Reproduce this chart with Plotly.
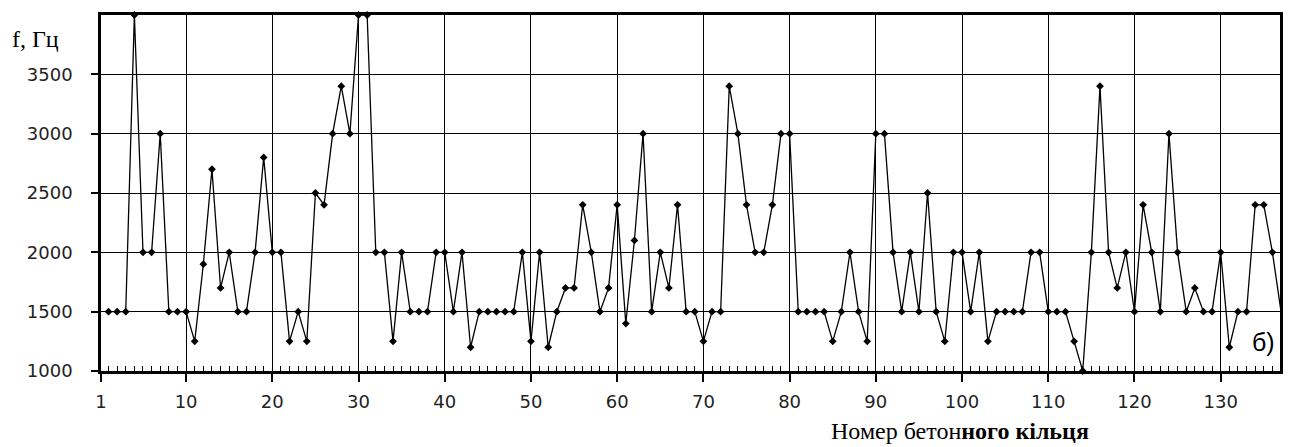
import plotly.graph_objects as go

ring_no = list(range(1, 138))
freq_hz = [
    1500, 1500, 1500, 4000, 2000, 2000, 3000, 1500, 1500, 1500,
    1250, 1900, 2700, 1700, 2000, 1500, 1500, 2000, 2800, 2000,
    2000, 1250, 1500, 1250, 2500, 2400, 3000, 3400, 3000, 4000,
    4000, 2000, 2000, 1250, 2000, 1500, 1500, 1500, 2000, 2000,
    1500, 2000, 1200, 1500, 1500, 1500, 1500, 1500, 2000, 1250,
    2000, 1200, 1500, 1700, 1700, 2400, 2000, 1500, 1700, 2400,
    1400, 2100, 3000, 1500, 2000, 1700, 2400, 1500, 1500, 1250,
    1500, 1500, 3400, 3000, 2400, 2000, 2000, 2400, 3000, 3000,
    1500, 1500, 1500, 1500, 1250, 1500, 2000, 1500, 1250, 3000,
    3000, 2000, 1500, 2000, 1500, 2500, 1500, 1250, 2000, 2000,
    1500, 2000, 1250, 1500, 1500, 1500, 1500, 2000, 2000, 1500,
    1500, 1500, 1250, 1000, 2000, 3400, 2000, 1700, 2000, 1500,
    2400, 2000, 1500, 3000, 2000, 1500, 1700, 1500, 1500, 2000,
    1200, 1500, 1500, 2400, 2400, 2000, 1500,
]

x_min, x_max = 0.13, 136.88
x_tick_vals = [x_min, 10, 20, 30, 40, 50, 60, 70, 80, 90, 100, 110, 120, 130]
x_tick_text = ["1", "10", "20", "30", "40", "50", "60", "70", "80", "90",
               "100", "110", "120", "130"]
y_tick_vals = [1000, 1500, 2000, 2500, 3000, 3500]
y_tick_text = ["1000", "1500", "2000", "2500", "3000", "3500"]

tick_font = dict(family="DejaVu Sans, Liberation Sans, Arial", size=18, color="#222")
serif = "Liberation Serif, Times New Roman, serif"

fig = go.Figure()
fig.add_trace(go.Scatter(
    x=ring_no, y=freq_hz, mode="lines+markers",
    line=dict(color="black", width=1.3),
    marker=dict(symbol="diamond", size=6, color="black"),
    cliponaxis=False, showlegend=False,
))

fig.update_layout(
    width=1293, height=447,
    margin=dict(l=101, r=10, t=15, b=76),
    paper_bgcolor="white", plot_bgcolor="white",
    xaxis=dict(
        range=[x_min, x_max], tickmode="array",
        tickvals=x_tick_vals, ticktext=x_tick_text,
        ticks="outside", ticklen=8, tickcolor="black", tickwidth=1.5,
        showgrid=True, gridcolor="black", gridwidth=1,
        showline=True, linecolor="black", linewidth=2.5, mirror=True,
        zeroline=False, tickfont=tick_font, ticklabelstandoff=5,
        minor=dict(tickmode="linear", tick0=1, dtick=1, ticks="inside",
                   ticklen=5, tickcolor="black", tickwidth=1, showgrid=False),
    ),
    yaxis=dict(
        range=[1000, 4000], tickmode="array",
        tickvals=y_tick_vals, ticktext=y_tick_text,
        ticks="outside", ticklen=7, tickcolor="black", tickwidth=1.5,
        showgrid=True, gridcolor="black", gridwidth=1,
        showline=True, linecolor="black", linewidth=2.5, mirror=True,
        zeroline=False, tickfont=tick_font, ticklabelstandoff=15,
    ),
    annotations=[
        dict(text="f, Гц", xref="paper", yref="paper",
             x=(10 - 101) / 1182, y=(371 - 39) / 356,
             xanchor="left", yanchor="middle", showarrow=False,
             font=dict(family=serif, size=24, color="black")),
        dict(text="Номер бетон<b>ного кільця</b>", xref="paper", yref="paper",
             x=(962 - 101) / 1182, y=(371 - 431) / 356,
             xanchor="center", yanchor="middle", showarrow=False,
             font=dict(family=serif, size=24, color="black")),
        dict(text="б)", xref="paper", yref="paper",
             x=(1266 - 101) / 1182, y=(371 - 342) / 356,
             xanchor="center", yanchor="middle", showarrow=False,
             font=dict(family="Liberation Sans, Arial", size=25, color="black")),
    ],
)

fig.write_html("out.html")
